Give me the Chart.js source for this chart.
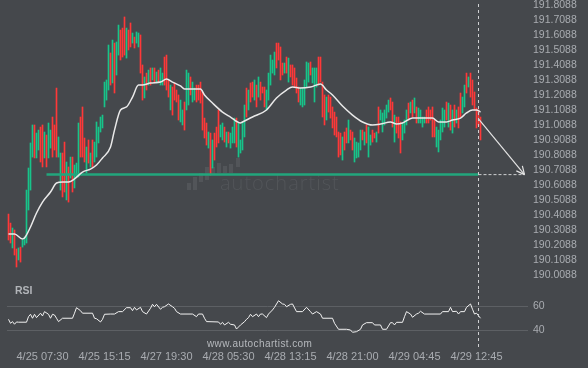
<!DOCTYPE html>
<html>
<head>
<meta charset="utf-8">
<script src="https://cdn.jsdelivr.net/npm/chart.js@4.4.1/dist/chart.umd.min.js"></script>
<style>
  html, body { margin: 0; padding: 0; background: #45484c; }
  #wrap { position: relative; width: 588px; height: 368px; overflow: hidden; background: #45484c; }
  canvas { position: absolute; left: 0; }
  #price { top: -10px; }
  #rsi { top: 280px; }
  .lbl { position: absolute; font-family: 'Liberation Sans', Arial, sans-serif; white-space: nowrap; }
  #rsiTitle { left: 15px; top: 284px; font-size: 10.5px; font-weight: bold; color: #b2b5b9; }
  #site { left: 207px; top: 338px; font-size: 10px; letter-spacing: 0.4px; color: #b6b9bd; }
</style>
</head>
<body>
<div id="wrap">
  <canvas id="price" width="588" height="304"></canvas>
  <canvas id="rsi" width="588" height="88"></canvas>
  <div class="lbl" id="rsiTitle">RSI</div>
  <div class="lbl" id="site">www.autochartist.com</div>
</div>
<script>
// bar highs / lows, one per 15-minute bar
const highs = [
  190.415,190.355,190.322,190.309,190.182,190.189,190.195,190.242,190.262,190.575,
  190.722,190.889,191.009,191.009,190.955,190.975,190.995,191.009,190.962,190.942,
  191.022,190.975,191.062,191.009,191.255,190.929,190.822,190.822,190.895,190.762,
  190.729,190.795,190.795,190.742,190.755,191.022,191.062,191.129,190.922,190.862,
  190.909,190.822,190.909,190.895,191.029,190.995,191.062,191.075,191.295,191.309,
  191.542,191.489,191.575,191.555,191.562,191.675,191.642,191.655,191.729,191.655,
  191.642,191.689,191.622,191.595,191.629,191.622,191.609,191.409,191.329,191.355,
  191.375,191.389,191.389,191.389,191.362,191.375,191.389,191.355,191.462,191.475,
  191.309,191.275,191.262,191.289,191.242,191.209,191.175,191.109,191.162,191.375,
  191.355,191.329,191.295,191.255,191.275,191.275,191.295,191.229,191.055,191.022,
  190.962,190.955,190.909,190.955,190.995,191.109,191.009,191.022,190.995,190.962,
  190.962,190.955,190.995,191.055,191.055,191.022,190.909,191.029,191.142,191.255,
  191.242,191.289,191.295,191.309,191.275,191.329,191.295,191.262,191.262,191.242,
  191.355,191.475,191.442,191.495,191.555,191.555,191.529,191.422,191.422,191.462,
  191.455,191.409,191.409,191.389,191.322,191.262,191.255,191.255,191.309,191.429,
  191.422,191.429,191.389,191.389,191.389,191.462,191.462,191.295,191.209,191.195,
  191.209,191.195,191.129,191.095,191.062,190.962,190.955,190.929,190.962,190.989,
  191.042,190.975,190.962,190.922,190.895,190.889,190.975,190.975,190.962,191.009,
  190.995,190.942,190.975,190.955,190.962,191.129,191.109,191.089,191.109,191.142,
  191.175,191.189,191.162,191.075,191.062,191.062,191.029,191.022,191.042,191.109,
  191.155,191.162,191.175,191.189,191.129,191.122,191.109,191.062,191.062,191.109,
  191.129,191.109,191.129,191.042,190.995,190.975,191.042,191.122,191.109,191.162,
  191.155,191.142,191.109,191.142,191.109,191.129,191.222,191.195,191.275,191.355,
  191.329,191.355,191.309,191.229,191.122,191.109,191.062
];
const lows = [
  190.242,190.222,190.189,190.142,190.062,190.109,190.095,190.195,190.209,190.222,
  190.442,190.575,190.795,190.789,190.789,190.842,190.762,190.729,190.789,190.729,
  190.789,190.855,190.795,190.842,190.795,190.795,190.575,190.529,190.562,190.509,
  190.495,190.655,190.562,190.589,190.662,190.662,190.795,190.795,190.762,190.689,
  190.755,190.729,190.729,190.762,190.795,190.889,190.962,190.989,191.129,191.175,
  191.242,191.275,191.289,191.222,191.342,191.475,191.442,191.462,191.475,191.455,
  191.509,191.529,191.555,191.522,191.555,191.529,191.355,191.175,191.189,191.242,
  191.275,191.275,191.309,191.289,191.289,191.295,191.275,191.275,191.275,191.242,
  191.195,191.109,191.075,191.175,191.162,191.042,191.029,191.009,190.975,191.109,
  191.142,191.209,191.162,191.175,191.162,191.175,191.155,190.975,190.922,190.875,
  190.855,190.675,190.722,190.775,190.862,190.889,190.929,190.909,190.895,190.862,
  190.889,190.855,190.889,190.889,190.862,190.795,190.822,190.842,190.929,191.062,
  191.109,191.162,191.195,191.175,191.129,191.195,191.175,191.222,191.129,191.109,
  191.175,191.275,191.355,191.342,191.389,191.442,191.309,191.342,191.355,191.355,
  191.295,191.329,191.275,191.262,191.222,191.162,191.142,191.129,191.142,191.262,
  191.295,191.342,191.289,191.162,191.262,191.275,191.295,191.062,191.009,191.042,
  191.095,191.055,190.989,190.942,190.929,190.795,190.809,190.775,190.842,190.889,
  190.889,190.909,190.842,190.762,190.789,190.795,190.842,190.909,190.875,190.889,
  190.795,190.875,190.895,190.922,190.895,190.955,191.042,190.962,191.009,191.055,
  191.095,191.109,190.995,190.895,190.955,190.922,190.822,190.909,190.955,191.009,
  191.042,191.089,191.062,191.089,191.022,191.022,191.022,190.995,191.022,191.022,
  191.022,191.042,190.929,190.929,190.862,190.829,190.909,190.962,190.995,191.042,
  190.995,190.975,190.955,190.995,191.022,190.989,191.062,191.089,191.129,191.222,
  191.262,191.195,191.142,191.109,190.989,191.009,190.909
];
// u = up bar (green), d = down bar (red)
const barDir = (
  'ddudduduuu' + 'uuuduudd' + 'ud' + 'uudddu' + 'uddu' + 'dudu' + 'uuddd' + 'u' +
  'dudu' + 'uuuuuu' + 'udud' + 'uudddu' + 'ddudu' + 'uddud' + 'udududuu' +
  'dddudddduu' + 'duudu' + 'udddd' + 'ddududdd' + 'uu' + 'dudu' + 'uudu' + 'uuu' +
  'duddududdd' + 'uuuuuddddu' + 'duddddduuu' + 'uudu' + 'uudddd' + 'udddddddud' +
  'dudduuuudu' + 'duudduduuu' + 'uuddudddu' + 'u' + 'udududuu' + 'uu' + 'dddd' + 'duuuuu' +
  'dudududduu' + 'duddddd'
).split('');

// moving average [bar, price]
const maPoints = [
  [0,190.282],[3,190.282],[7,190.249],[8,190.255],[11,190.329],[14,190.422],[17,190.495],
  [21,190.562],[24,190.622],[27,190.629],[30,190.629],[33,190.649],[37,190.695],[41,190.715],
  [44,190.742],[47,190.789],[51,190.862],[53,190.975],[56,191.109],[59,191.129],[62,191.195],
  [65,191.275],[67,191.275],[71,191.289],[76,191.295],[79,191.315],[82,191.295],[86,191.269],
  [88,191.249],[94,191.249],[96,191.249],[98,191.209],[102,191.155],[107,191.095],[111,191.062],
  [116,191.022],[117,191.029],[122,191.062],[129,191.109],[134,191.189],[139,191.242],
  [142,191.262],[146,191.255],[151,191.262],[156,191.282],[159,191.242],[162,191.209],
  [167,191.135],[172,191.075],[177,191.029],[182,191.009],[186,191.015],[191,191.029],
  [194,191.015],[197,191.022],[202,191.055],[209,191.055],[212,191.055],[215,191.029],
  [219,191.029],[222,191.042],[226,191.055],[229,191.089],[232,191.109],[234,191.109],
  [236,191.095]
];

// RSI [bar, value]
const rsiPoints = [
  [0,48.9],[1,45.6],[2,47.0],[3,44.8],[4,46.7],[5,46.5],[9,46.5],[10,51.1],[11,53.1],[12,49.8],
  [13,53.1],[14,50.3],[16,54.0],[17,51.7],[18,55.3],[20,53.1],[21,49.8],[22,53.1],[23,52.5],
  [24,49.8],[25,47.0],[27,49.8],[32,49.8],[33,54.0],[34,58.6],[36,56.1],[37,54.0],[42,54.0],
  [43,49.8],[44,49.4],[46,46.7],[47,48.9],[48,53.1],[51,53.3],[53,53.3],[55,55.3],[57,55.3],
  [59,58.6],[61,58.6],[62,56.1],[63,58.9],[64,56.7],[66,58.9],[67,55.3],[69,53.3],[71,58.1],
  [72,61.4],[73,59.4],[74,61.4],[76,57.3],[77,58.9],[78,59.4],[80,61.7],[82,59.4],[83,58.1],
  [84,55.3],[86,53.3],[92,53.3],[94,51.1],[95,53.3],[97,53.3],[98,49.8],[99,47.0],[105,46.7],
  [106,44.8],[107,46.4],[108,44.2],[110,46.4],[111,44.8],[113,44.2],[114,40.8],[116,44.2],
  [118,46.9],[119,48.9],[120,50.3],[121,53.1],[122,51.1],[124,53.3],[125,51.1],[126,53.3],
  [127,53.3],[129,50.3],[130,53.3],[132,56.7],[133,58.9],[135,64.4],[137,61.7],[138,61.4],
  [139,59.4],[141,61.4],[142,61.7],[144,55.3],[147,55.3],[149,58.9],[151,55.3],[152,53.3],
  [154,55.3],[156,53.3],[157,49.8],[162,49.8],[163,45.6],[165,40.6],[169,40.6],[171,40.0],
  [172,38.1],[174,38.6],[176,40.6],[177,44.2],[179,46.1],[182,46.1],[183,44.2],[186,44.2],
  [187,40.6],[189,40.6],[191,46.1],[192,46.1],[193,44.2],[194,46.4],[197,46.4],[198,51.1],
  [199,55.3],[201,53.3],[202,50.6],[204,53.3],[205,54.0],[206,55.6],[208,53.3],[216,53.3],
  [217,55.3],[220,55.3],[221,58.9],[222,55.3],[224,55.6],[225,53.3],[226,55.3],[228,55.3],
  [229,58.9],[231,61.7],[232,57.3],[233,53.3],[234,54.0],[236,49.8]
];

// support level, current bar and forecast target
const supportLevel = 190.678;
const supportFrom = 19;
const nowBar = 235;
const targetBar = 258;
const arrowFrom = 191.049;

// ticks
const priceTicks = [190.0088,190.1088,190.2088,190.3088,190.4088,190.5088,190.6088,190.7088,190.8088,
  190.9088,191.0088,191.1088,191.2088,191.3088,191.4088,191.5088,191.6088,191.7088,191.8088];
const rsiTicks = [40, 60];
const timeIdx = [17, 48, 79, 110, 141, 172, 203, 234];
const timeLabels = ['4/25 07:30','4/25 15:15','4/27 19:30','4/28 05:30','4/28 13:15','4/28 21:00','4/29 04:45','4/29 12:45'];

const UP = '#17c48a', DOWN = '#ff3838';
const tickColor = '#a9acb1';
const fontFam = "'Liberation Sans', Arial, sans-serif";
const xRange = { min: -0.75, max: 259.75 };
const PRICE_TOP = -10; // canvas offset inside the page

// vertical dashed "now" line
const nowLine = {
  id: 'nowLine',
  afterDraw(chart, args, opts) {
    const ctx = chart.ctx;
    const x = Math.round(chart.scales.x.getPixelForValue(nowBar)) - 0.5;
    ctx.save();
    ctx.strokeStyle = '#cfd0d2';
    ctx.lineWidth = 1;
    ctx.setLineDash([3, 3]);
    ctx.beginPath();
    ctx.moveTo(x, opts.from);
    ctx.lineTo(x, opts.to);
    ctx.stroke();
    ctx.restore();
  }
};

// arrow head on the forecast line + faint watermark
const extras = {
  id: 'extras',
  beforeDatasetsDraw(chart) {
    const ctx = chart.ctx;
    const dy = -PRICE_TOP;
    ctx.save();
    ctx.fillStyle = '#525559';
    [[187,183,4,7],[193,177,4,13],[199,173,4,9],[205,167,4,13],[211,167,4,8],
     [217,163,4,10],[223,166,4,7],[229,164,4,9],[236,158,4,9]].forEach(r => {
      ctx.fillRect(r[0], r[1] + dy, r[2], r[3]);
    });
    ctx.font = "300 20px 'Open Sans', sans-serif";
    try { ctx.letterSpacing = '1px'; } catch (e) {}
    ctx.textBaseline = 'alphabetic';
    ctx.fillText('autochartist', 220, 190 + dy);
    ctx.restore();
  },
  afterDatasetsDraw(chart) {
    const meta = chart.getDatasetMeta(4);
    const p0 = meta.data[0], p1 = meta.data[1];
    const ang = Math.atan2(p1.y - p0.y, p1.x - p0.x);
    const ctx = chart.ctx;
    ctx.save();
    ctx.strokeStyle = '#e4e4e4';
    ctx.lineWidth = 1.2;
    ctx.beginPath();
    [-0.45, 0.45].forEach(d => {
      ctx.moveTo(p1.x, p1.y);
      ctx.lineTo(p1.x - 9 * Math.cos(ang + d), p1.y - 9 * Math.sin(ang + d));
    });
    ctx.stroke();
    ctx.restore();
  }
};

const priceChart = new Chart(document.getElementById('price'), {
  type: 'bar',
  data: {
    datasets: [
      {
        type: 'bar',
        data: highs.map((h, i) => ({ x: i, y: [lows[i], h] })),
        backgroundColor: barDir.map(d => d === 'u' ? UP : DOWN),
        barThickness: 1,
        borderWidth: 0,
        order: 5
      },
      {
        type: 'line',
        data: maPoints.map(p => ({ x: p[0], y: p[1] })),
        borderColor: '#e9e9e9',
        borderWidth: 1.5,
        pointRadius: 0,
        cubicInterpolationMode: 'monotone',
        order: 3
      },
      {
        type: 'line',
        data: [{ x: supportFrom, y: supportLevel }, { x: nowBar, y: supportLevel }],
        borderColor: '#22a67c',
        borderWidth: 2.5,
        pointRadius: 0,
        order: 4
      },
      {
        type: 'line',
        data: [{ x: nowBar, y: supportLevel }, { x: targetBar, y: supportLevel }],
        borderColor: '#cfd0d2',
        borderWidth: 1,
        borderDash: [3, 2],
        pointRadius: 0,
        order: 1
      },
      {
        type: 'line',
        data: [{ x: nowBar, y: arrowFrom }, { x: targetBar, y: supportLevel }],
        borderColor: '#e4e4e4',
        borderWidth: 1.2,
        pointRadius: 0,
        order: 1
      }
    ]
  },
  options: {
    responsive: false,
    animation: false,
    devicePixelRatio: 1,
    layout: { padding: { left: 7, top: 12, bottom: 12, right: 0 } },
    plugins: { legend: { display: false }, tooltip: { enabled: false }, nowLine: { from: 14, to: 300 } },
    scales: {
      x: { type: 'linear', display: false, offset: false, min: xRange.min, max: xRange.max },
      y: {
        position: 'right',
        min: 191.8288 - 280 / 150,
        max: 191.8288,
        grid: { display: false, drawTicks: false },
        border: { display: false },
        afterBuildTicks: s => { s.ticks = priceTicks.map(v => ({ value: v })); },
        afterFit: s => { s.width = 60; },
        ticks: {
          autoSkip: false,
          padding: 5,
          color: tickColor,
          font: { family: fontFam, size: 10.5 },
          callback: v => Number(v).toFixed(4)
        }
      }
    }
  },
  plugins: [extras, nowLine]
});

const rsiChart = new Chart(document.getElementById('rsi'), {
  type: 'line',
  data: {
    datasets: [{
      data: rsiPoints.map(p => ({ x: p[0], y: p[1] })),
      borderColor: '#f2f2f2',
      borderWidth: 1,
      pointRadius: 0,
      tension: 0
    }]
  },
  options: {
    responsive: false,
    animation: false,
    devicePixelRatio: 1,
    layout: { padding: { left: 7, top: 12, bottom: 0, right: 0 } },
    plugins: { legend: { display: false }, tooltip: { enabled: false }, nowLine: { from: 10, to: 70 } },
    scales: {
      x: {
        type: 'linear',
        offset: false,
        min: xRange.min,
        max: xRange.max,
        grid: { display: false, drawTicks: false },
        border: { display: false },
        afterBuildTicks: s => { s.ticks = timeIdx.map(v => ({ value: v })); },
        afterFit: s => { s.height = 26; },
        ticks: {
          autoSkip: false,
          maxRotation: 0,
          padding: 8,
          color: tickColor,
          font: { family: fontFam, size: 11 },
          callback: v => timeLabels[timeIdx.indexOf(v)]
        }
      },
      y: {
        position: 'right',
        min: 30,
        max: 30 + 50 / 1.2,
        grid: { color: '#5d6064', lineWidth: 1, drawTicks: false },
        border: { display: false },
        afterBuildTicks: s => { s.ticks = rsiTicks.map(v => ({ value: v })); },
        afterFit: s => { s.width = 60; },
        ticks: {
          autoSkip: false,
          padding: 5,
          color: tickColor,
          font: { family: fontFam, size: 10.5 },
          callback: v => String(v)
        }
      }
    }
  },
  plugins: [nowLine]
});
</script>
</body>
</html>
